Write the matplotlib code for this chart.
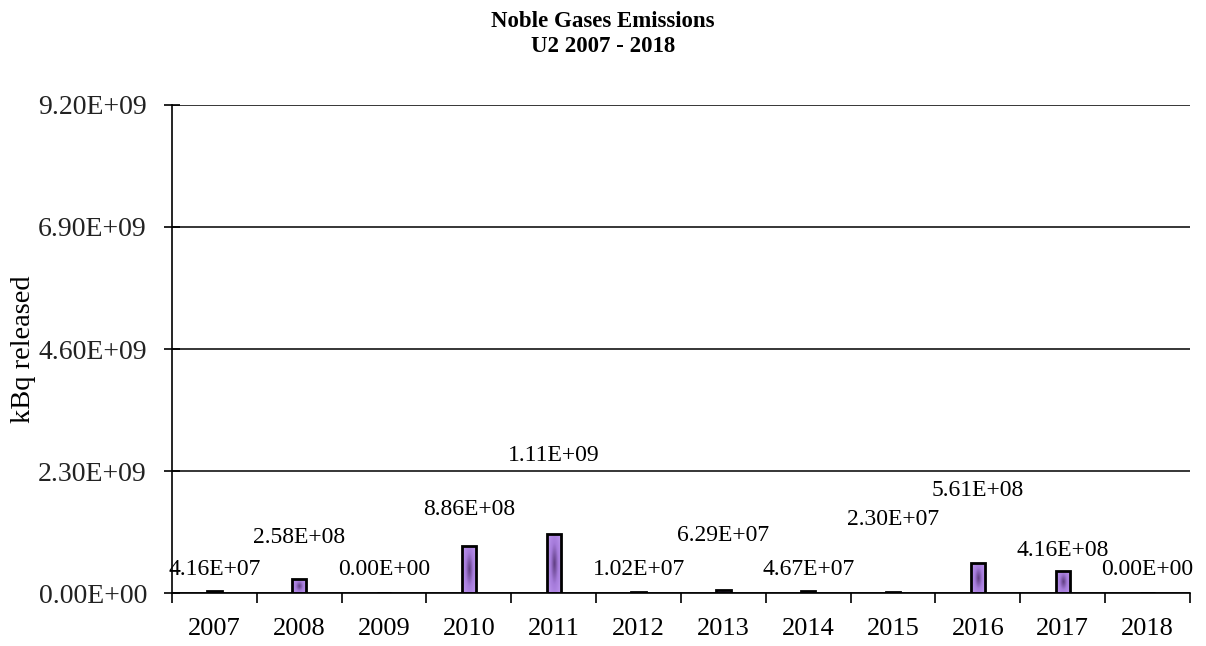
import numpy as np
import matplotlib
matplotlib.use('Agg')
import matplotlib.pyplot as plt
from matplotlib.colors import LinearSegmentedColormap
from matplotlib.ticker import FuncFormatter

plt.rcParams['font.family'] = ['Liberation Serif', 'DejaVu Serif']

years = ['2007', '2008', '2009', '2010', '2011', '2012',
         '2013', '2014', '2015', '2016', '2017', '2018']
emissions = [4.16e7, 2.58e8, 0.0, 8.86e8, 1.11e9, 1.02e7,
             6.29e7, 4.67e7, 2.30e7, 5.61e8, 4.16e8, 0.0]
y_ticks = [0.0, 2.3e9, 4.6e9, 6.9e9, 9.2e9]

# where the data labels sit (Excel labels were dragged around by hand)
label_y = [4.5e8, 1.04e9, 4.5e8, 1.58e9, 2.6e9, 4.5e8,
           1.09e9, 4.5e8, 1.38e9, 1.94e9, 8.1e8, 4.5e8]

fig = plt.figure(figsize=(12.06, 6.46), dpi=100)
ax = fig.add_axes([0.1426, 0.082, 0.8441, 0.7555])

x = np.arange(len(years))
bars = ax.bar(x, emissions, width=0.17, color='none', edgecolor='black',
              linewidth=2.0, zorder=3)

# purple fill, dark in the middle, light at the edges
cmap = LinearSegmentedColormap.from_list('purp', ['#5e3d80', '#a57bda', '#bb94ed'])
gx = np.linspace(-1, 1, 40)
gy = np.linspace(-1, 1, 80)
GX, GY = np.meshgrid(gx, gy)
grad = np.clip(np.sqrt(GX**2 + (GY * 0.7)**2), 0, 1)
for b in bars:
    h = b.get_height()
    if h <= 0:
        continue
    x0 = b.get_x()
    im = ax.imshow(grad, cmap=cmap, vmin=0, vmax=1, aspect='auto',
                   extent=[x0, x0 + b.get_width(), 0, h], zorder=2,
                   interpolation='bilinear')
    im.set_clip_path(b)

for xi, v, ly in zip(x, emissions, label_y):
    ax.text(xi, ly, '%.2E' % v, ha='center', va='center', fontsize=17, zorder=4)

ax.set_xlim(-0.5, len(years) - 0.5)
ax.set_ylim(0, 9.2e9)
ax.set_yticks(y_ticks)
ax.yaxis.set_major_formatter(FuncFormatter(lambda v, p: '%.2E' % v))
ax.set_xticks(x)
ax.set_xticklabels(years)
ax.set_xticks(np.arange(-0.5, len(years)), minor=True)
ax.tick_params(axis='x', which='major', length=0, labelsize=19, pad=18)
ax.tick_params(axis='x', which='minor', length=7, width=1.2, direction='out')
ax.tick_params(axis='y', length=12, width=1.2, direction='inout', labelsize=20, pad=12)
for t in ax.get_yticklabels():
    t.set_color('#222222')

ax.grid(axis='y', color='black', linewidth=1.1, zorder=0)
ax.set_axisbelow(True)
for s in ['top', 'right']:
    ax.spines[s].set_visible(False)
ax.spines['left'].set_linewidth(1.2)
ax.spines['bottom'].set_linewidth(1.2)

ax.set_ylabel('kBq released', fontsize=20.5, labelpad=1.5)
fig.text(0.5, 0.947, 'Noble Gases Emissions\nU2 2007 - 2018', ha='center', va='center',
         fontsize=16.5, fontweight='bold', linespacing=1.25)

fig.savefig('out.png', dpi=100)
